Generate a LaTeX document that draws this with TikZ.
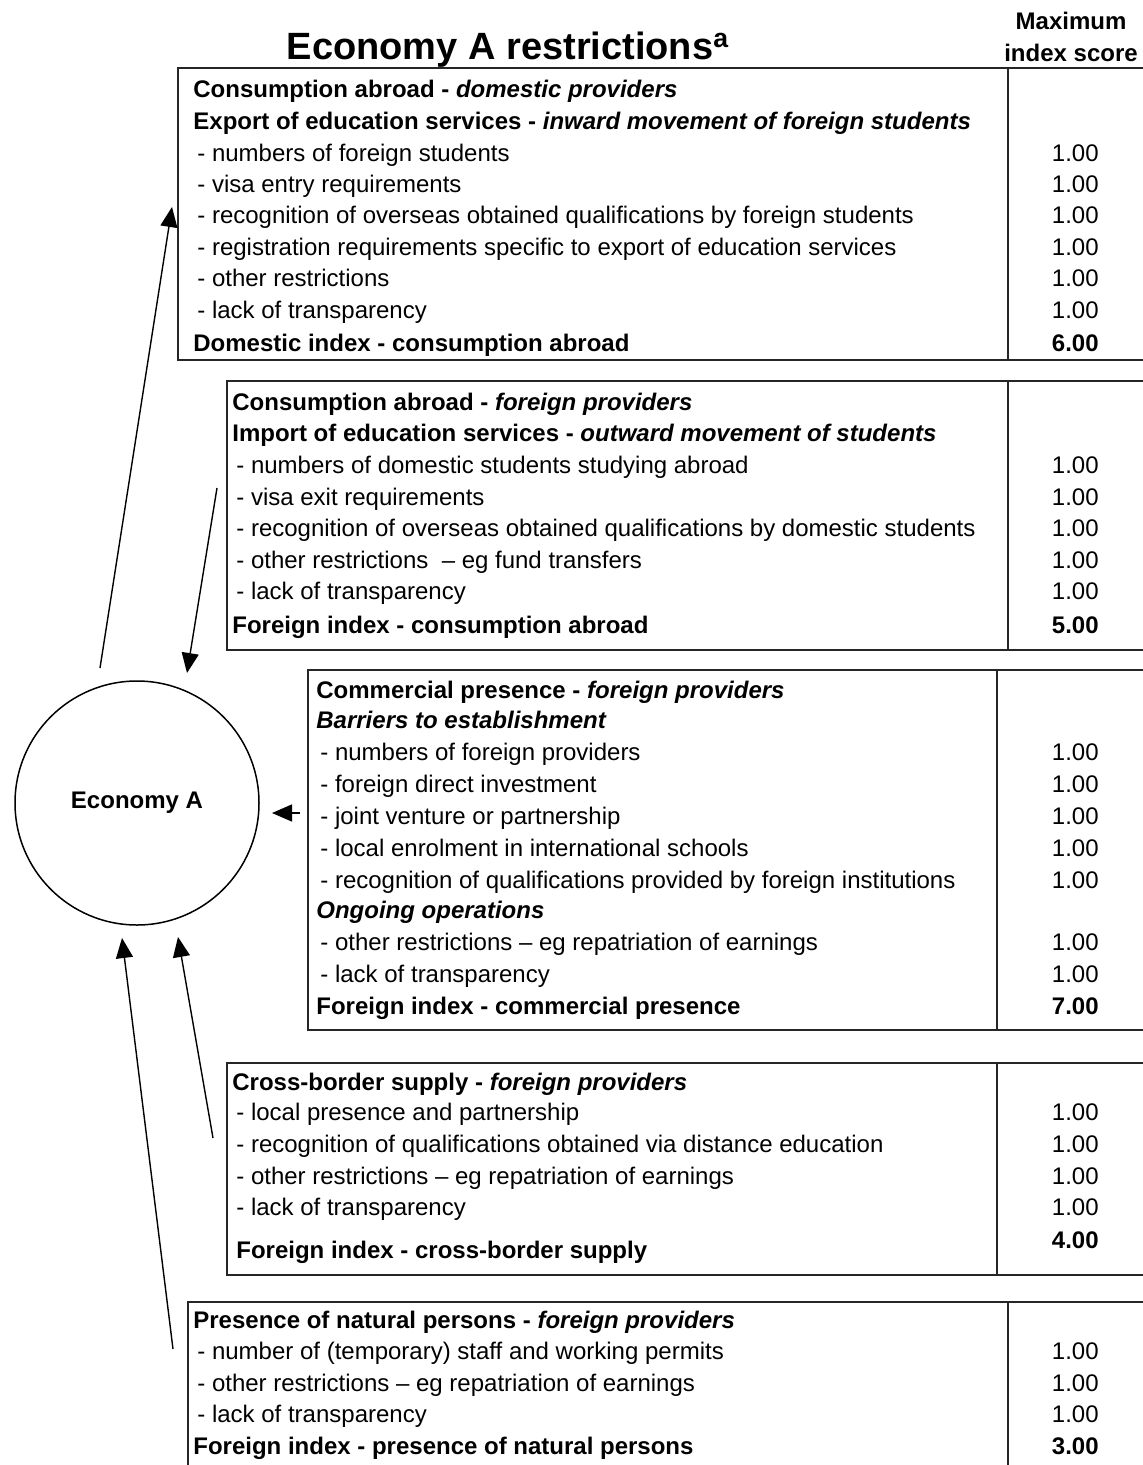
\documentclass[tikz,border=0pt]{standalone}
\usepackage{fontspec}
\setmainfont{Liberation Sans}
\usetikzlibrary{arrows.meta}

\tikzset{
  row/.style={anchor=mid west,inner sep=0pt,yshift=-1.5pt,font=\fontsize{12}{14}\selectfont},
  head/.style={row,font=\fontsize{12}{14}\selectfont\bfseries},
  score/.style={anchor=mid east,inner sep=0pt,yshift=-1.5pt,font=\fontsize{12}{14}\selectfont},
  total/.style={score,font=\fontsize{12}{14}\selectfont\bfseries},
  frame/.style={draw=black!85,line width=1pt},
  link/.style={-{Triangle[length=10pt,width=8.5pt]},line width=0.7pt}
}

\begin{document}
\begin{tikzpicture}[x=0.5pt,y=-0.5pt]
  \useasboundingbox (0,0) rectangle (1143,1465);

  % titles
  \node[font=\fontsize{19}{22}\selectfont\bfseries] (title) at (508,50) {Economy A restrictions\textsuperscript{a}};
  \node[font=\fontsize{12}{14}\selectfont\bfseries,align=center] (maxscore) at (1071,37) {Maximum\\[2pt]index score};

  % frames
  \draw[frame] (1143,68) -| (178,360) -- (1143,360);
  \draw[frame] (1008,68) -- (1008,360);
  \draw[frame] (1143,381) -| (227,650) -- (1143,650);
  \draw[frame] (1008,381) -- (1008,650);
  \draw[frame] (1143,670) -| (308,1030) -- (1143,1030);
  \draw[frame] (997,670) -- (997,1030);
  \draw[frame] (1143,1063) -| (227,1275) -- (1143,1275);
  \draw[frame] (997,1063) -- (997,1275);
  \draw[frame] (1143,1302) -| (188,1470);
  \draw[frame] (1008,1302) -- (1008,1470);

  % consumption abroad - domestic
  \node[head] (d1) at (193,89) {Consumption abroad - \textit{domestic providers}};
  \node[head] (d2) at (193,121) {Export of education services - \textit{inward movement of foreign students}};
  \node[row] (d3) at (197,153) {- numbers of foreign students};
  \node[row] (d4) at (197,184) {- visa entry requirements};
  \node[row] (d5) at (197,215) {- recognition of overseas obtained qualifications by foreign students};
  \node[row] (d6) at (197,247) {- registration requirements specific to export of education services};
  \node[row] (d7) at (197,278) {- other restrictions};
  \node[row] (d8) at (197,310) {- lack of transparency};
  \node[head] (d9) at (193,343) {Domestic index - consumption abroad};
  \node[score] (dv3) at (1099,153) {1.00};
  \node[score] (dv4) at (1099,184) {1.00};
  \node[score] (dv5) at (1099,215) {1.00};
  \node[score] (dv6) at (1099,247) {1.00};
  \node[score] (dv7) at (1099,278) {1.00};
  \node[score] (dv8) at (1099,310) {1.00};
  \node[total] (dv9) at (1099,343) {6.00};

  % consumption abroad - foreign
  \node[head] (f1) at (232,402) {Consumption abroad - \textit{foreign providers}};
  \node[head] (f2) at (232,433) {Import of education services - \textit{outward movement of students}};
  \node[row] (f3) at (236,465) {- numbers of domestic students studying abroad};
  \node[row] (f4) at (236,497) {- visa exit requirements};
  \node[row] (f5) at (236,528) {- recognition of overseas obtained qualifications by domestic students};
  \node[row] (f6) at (236,560) {- other restrictions\ \ – eg fund transfers};
  \node[row] (f7) at (236,591) {- lack of transparency};
  \node[head] (f8) at (232,625) {Foreign index - consumption abroad};
  \node[score] (fv3) at (1099,465) {1.00};
  \node[score] (fv4) at (1099,497) {1.00};
  \node[score] (fv5) at (1099,528) {1.00};
  \node[score] (fv6) at (1099,560) {1.00};
  \node[score] (fv7) at (1099,591) {1.00};
  \node[total] (fv8) at (1099,625) {5.00};

  % commercial presence
  \node[head] (c1) at (316,690) {Commercial presence - \textit{foreign providers}};
  \node[head] (c2) at (316,720) {\textit{Barriers to establishment}};
  \node[row] (c3) at (320,752) {- numbers of foreign providers};
  \node[row] (c4) at (320,784) {- foreign direct investment};
  \node[row] (c5) at (320,816) {- joint venture or partnership};
  \node[row] (c6) at (320,848) {- local enrolment in international schools};
  \node[row] (c7) at (320,880) {- recognition of qualifications provided by foreign institutions};
  \node[head] (c8) at (316,910) {\textit{Ongoing operations}};
  \node[row] (c9) at (320,942) {- other restrictions – eg repatriation of earnings};
  \node[row] (c10) at (320,974) {- lack of transparency};
  \node[head] (c11) at (316,1006) {Foreign index - commercial presence};
  \node[score] (cv3) at (1099,752) {1.00};
  \node[score] (cv4) at (1099,784) {1.00};
  \node[score] (cv5) at (1099,816) {1.00};
  \node[score] (cv6) at (1099,848) {1.00};
  \node[score] (cv7) at (1099,880) {1.00};
  \node[score] (cv9) at (1099,942) {1.00};
  \node[score] (cv10) at (1099,974) {1.00};
  \node[total] (cv11) at (1099,1006) {7.00};

  % cross-border supply
  \node[head] (x1) at (232,1082) {Cross-border supply - \textit{foreign providers}};
  \node[row] (x2) at (236,1112) {- local presence and partnership};
  \node[row] (x3) at (236,1144) {- recognition of qualifications obtained via distance education};
  \node[row] (x4) at (236,1176) {- other restrictions – eg repatriation of earnings};
  \node[row] (x5) at (236,1207) {- lack of transparency};
  \node[head] (x6) at (236,1250) {Foreign index - cross-border supply};
  \node[score] (xv2) at (1099,1112) {1.00};
  \node[score] (xv3) at (1099,1144) {1.00};
  \node[score] (xv4) at (1099,1176) {1.00};
  \node[score] (xv5) at (1099,1207) {1.00};
  \node[total] (xv6) at (1099,1240) {4.00};

  % natural persons
  \node[head] (n1) at (193,1320) {Presence of natural persons - \textit{foreign providers}};
  \node[row] (n2) at (197,1351) {- number of (temporary) staff and working permits};
  \node[row] (n3) at (197,1383) {- other restrictions – eg repatriation of earnings};
  \node[row] (n4) at (197,1414) {- lack of transparency};
  \node[head] (n5) at (193,1446) {Foreign index - presence of natural persons};
  \node[score] (nv2) at (1099,1351) {1.00};
  \node[score] (nv3) at (1099,1383) {1.00};
  \node[score] (nv4) at (1099,1414) {1.00};
  \node[total] (nv5) at (1099,1446) {3.00};

  % economy
  \node[circle,draw,line width=0.75pt,minimum size=122pt,inner sep=0pt,
        font=\fontsize{12}{14}\selectfont\bfseries] (eco) at (137,803) {Economy A};

  \coordinate (out1) at (100,668);   \coordinate (in1) at (172,207);
  \coordinate (out2) at (217,488);   \coordinate (in2) at (187,673);
  \coordinate (out3) at (300,813);   \coordinate (in3) at (272,813);
  \coordinate (out4) at (213,1138);  \coordinate (in4) at (178,937);
  \coordinate (out5) at (173,1349);  \coordinate (in5) at (122,938);

  \draw[link] (out1) -- (in1);
  \draw[link] (out2) -- (in2);
  \draw[link] (out3) -- (in3);
  \draw[link] (out4) -- (in4);
  \draw[link] (out5) -- (in5);

\end{tikzpicture}
\end{document}
